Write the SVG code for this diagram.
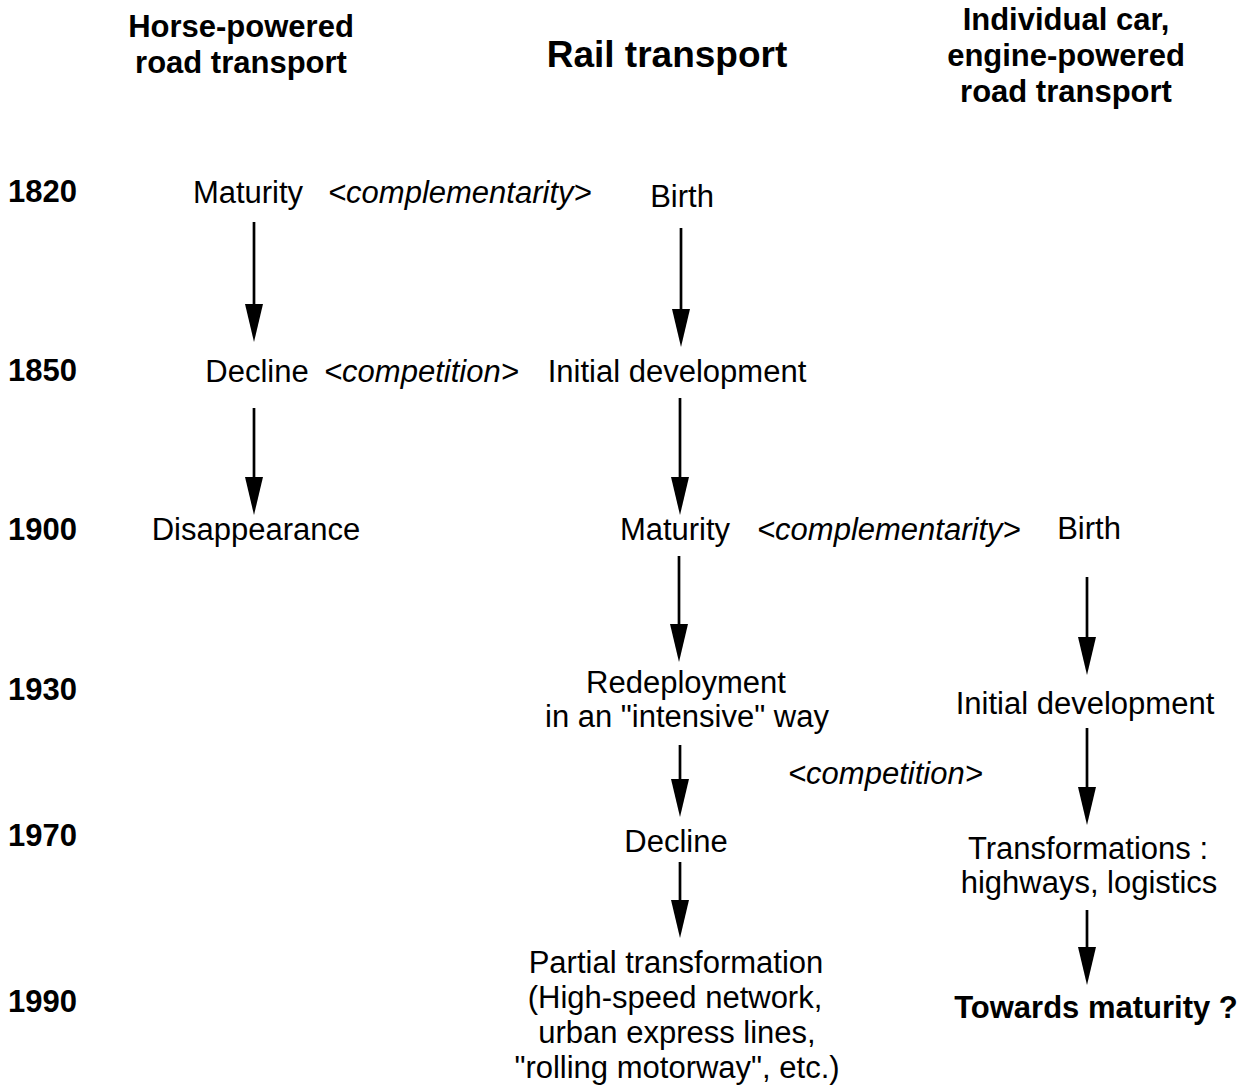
<svg xmlns="http://www.w3.org/2000/svg" width="1253" height="1090" viewBox="0 0 1253 1090">
<style>
text{font-family:"Liberation Sans",Arial,Helvetica,sans-serif;font-size:31px;fill:#000}
.h{font-weight:bold}
.big{font-weight:bold;font-size:37px}
.c{text-anchor:middle}
.i{font-style:italic}
.ar{stroke:#000;stroke-width:2.7;fill:none}
</style>
<defs>
<marker id="ah" markerUnits="userSpaceOnUse" viewBox="0 0 38 18" refX="0" refY="9" markerWidth="38" markerHeight="18" orient="auto">
<path d="M0,0 L38,9 L0,18 z" fill="#000"/>
</marker>
</defs>
<rect width="1253" height="1090" fill="#fff"/>
<g id="headers">
<text class="h c" x="241" y="37">Horse-powered</text>
<text class="h c" x="241" y="73">road transport</text>
<text class="big c" x="667" y="67">Rail transport</text>
<text class="h c" x="1066" y="30">Individual car,</text>
<text class="h c" x="1066" y="66">engine-powered</text>
<text class="h c" x="1066" y="102">road transport</text>
</g>
<g id="years">
<text class="h" x="8" y="202">1820</text>
<text class="h" x="8" y="381">1850</text>
<text class="h" x="8" y="540">1900</text>
<text class="h" x="8" y="700">1930</text>
<text class="h" x="8" y="846">1970</text>
<text class="h" x="8" y="1012">1990</text>
</g>
<g id="horse-maturity"><text class="c" x="248" y="203">Maturity</text></g>
<g id="horse-decline"><text class="c" x="257" y="382">Decline</text></g>
<g id="horse-disappearance"><text class="c" x="256" y="540">Disappearance</text></g>
<g id="rail-birth"><text class="c" x="682" y="207">Birth</text></g>
<g id="rail-initial"><text class="c" x="677" y="382">Initial development</text></g>
<g id="rail-maturity"><text class="c" x="675" y="540">Maturity</text></g>
<g id="rail-redeployment"><text class="c" x="686" y="693">Redeployment</text><text class="c" x="687" y="727">in an "intensive" way</text></g>
<g id="rail-decline"><text class="c" x="676" y="852">Decline</text></g>
<g id="rail-partial"><text class="c" x="676" y="973">Partial transformation</text><text class="c" x="675" y="1008">(High-speed network,</text><text class="c" x="677" y="1043">urban express lines,</text><text class="c" x="677" y="1078">"rolling motorway", etc.)</text></g>
<g id="car-birth"><text class="c" x="1089" y="539">Birth</text></g>
<g id="car-initial"><text class="c" x="1085" y="714">Initial development</text></g>
<g id="car-transformations"><text class="c" x="1088" y="859">Transformations :</text><text class="c" x="1089" y="893">highways, logistics</text></g>
<g id="car-towards"><text class="h c" x="1096" y="1018">Towards maturity ?</text></g>
<g id="relations">
<text class="i" x="328" y="203">&lt;complementarity&gt;</text>
<text class="i" x="324" y="382">&lt;competition&gt;</text>
<text class="i" x="757" y="540">&lt;complementarity&gt;</text>
<text class="i" x="788" y="784">&lt;competition&gt;</text>
</g>
<g id="connectors">
<line class="ar" x1="254" y1="222" x2="254" y2="304" marker-end="url(#ah)"/>
<line class="ar" x1="254" y1="408" x2="254" y2="477" marker-end="url(#ah)"/>
<line class="ar" x1="681" y1="228" x2="681" y2="309" marker-end="url(#ah)"/>
<line class="ar" x1="680" y1="398" x2="680" y2="477" marker-end="url(#ah)"/>
<line class="ar" x1="679" y1="556" x2="679" y2="624" marker-end="url(#ah)"/>
<line class="ar" x1="680" y1="745" x2="680" y2="779" marker-end="url(#ah)"/>
<line class="ar" x1="680" y1="862" x2="680" y2="900" marker-end="url(#ah)"/>
<line class="ar" x1="1087" y1="577" x2="1087" y2="637" marker-end="url(#ah)"/>
<line class="ar" x1="1087" y1="728" x2="1087" y2="787" marker-end="url(#ah)"/>
<line class="ar" x1="1087" y1="910" x2="1087" y2="947" marker-end="url(#ah)"/>
</g>
</svg>
